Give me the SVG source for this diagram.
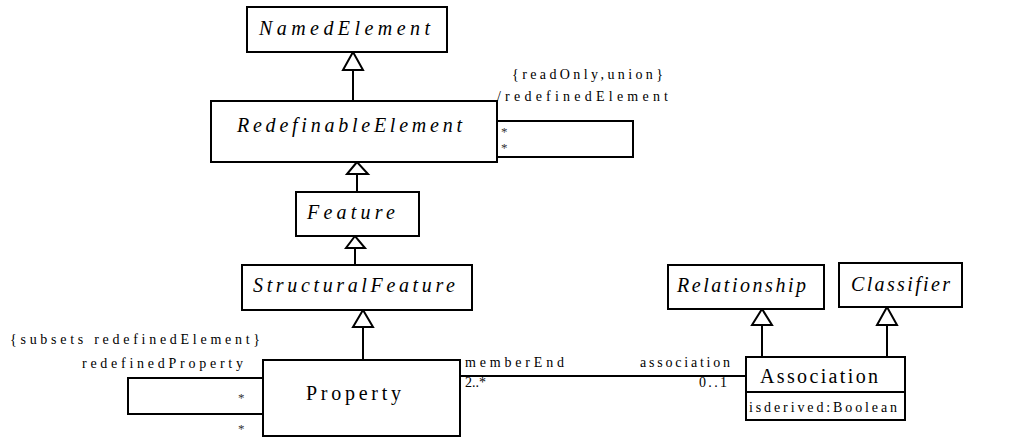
<svg xmlns="http://www.w3.org/2000/svg" width="1014" height="438" viewBox="0 0 1014 438">
<style>
.box{fill:#fff;stroke:#000;stroke-width:2}
.ln{fill:none;stroke:#000;stroke-width:2}
.tri{fill:#fff;stroke:#000;stroke-width:2;stroke-linejoin:miter}
.t{font-family:"Liberation Serif","Times New Roman",serif;font-style:italic;font-size:20px;fill:#000}
.n{font-family:"Liberation Serif","Times New Roman",serif;font-size:20px;fill:#000}
.s{font-family:"Liberation Serif","Times New Roman",serif;font-size:14px;fill:#000}
.a{font-family:"Liberation Serif","Times New Roman",serif;font-size:13px;fill:#333}
</style>
<rect width="1014" height="438" fill="#fff"/>
<g id="connectors">
<line class="ln" x1="353" y1="70" x2="353" y2="101"/>
<polygon class="tri" points="353,52 343,70 363,70"/>
<line class="ln" x1="357" y1="174" x2="357" y2="192"/>
<polygon class="tri" points="357,162 347,174 368,174"/>
<line class="ln" x1="355" y1="248" x2="355" y2="265"/>
<polygon class="tri" points="355,236 346,248 365,248"/>
<line class="ln" x1="363" y1="327" x2="363" y2="360"/>
<polygon class="tri" points="363,310 353,327 373,327"/>
<line class="ln" x1="762" y1="325" x2="762" y2="357"/>
<polygon class="tri" points="762,309 752,325 772,325"/>
<line class="ln" x1="887" y1="325" x2="887" y2="357"/>
<polygon class="tri" points="887,307 877,325 897,325"/>
<polyline class="ln" points="497,121 633,121 633,157 497,157"/>
<polyline class="ln" points="263,378 128,378 128,414 263,414"/>
<line class="ln" x1="460" y1="376" x2="746" y2="376"/>
<text class="s" x="512" y="79" textLength="151" lengthAdjust="spacing">{readOnly,union}</text>
<text class="s" x="497" y="101" textLength="171" lengthAdjust="spacing">/redefinedElement</text>
<text class="a" x="501" y="136">*</text>
<text class="a" x="501" y="152">*</text>
<text class="s" x="10" y="344" textLength="250" lengthAdjust="spacing">{subsets redefinedElement}</text>
<text class="s" x="82" y="368" textLength="161" lengthAdjust="spacing">redefinedProperty</text>
<text class="a" x="238" y="402">*</text>
<text class="a" x="238" y="433">*</text>
<text class="s" x="465" y="367" textLength="99" lengthAdjust="spacing">memberEnd</text>
<text class="s" x="465" y="387">2..*</text>
<text class="s" x="640" y="367" textLength="90" lengthAdjust="spacing">association</text>
<text class="s" x="699" y="387" textLength="28" lengthAdjust="spacing">0..1</text>
</g>
<g id="NamedElement">
<rect class="box" x="247" y="7" width="200" height="45"/>
<text class="t" x="259" y="35" textLength="171" lengthAdjust="spacing">NamedElement</text>
</g>
<g id="RedefinableElement">
<rect class="box" x="211" y="101" width="286" height="61"/>
<text class="t" x="237" y="132" textLength="225" lengthAdjust="spacing">RedefinableElement</text>
</g>
<g id="Feature">
<rect class="box" x="296" y="192" width="123" height="44"/>
<text class="t" x="307" y="219" textLength="88" lengthAdjust="spacing">Feature</text>
</g>
<g id="StructuralFeature">
<rect class="box" x="242" y="265" width="230" height="45"/>
<text class="t" x="253" y="292" textLength="202" lengthAdjust="spacing">StructuralFeature</text>
</g>
<g id="Property">
<rect class="box" x="263" y="360" width="197" height="76"/>
<text class="n" x="306" y="400" textLength="95" lengthAdjust="spacing">Property</text>
</g>
<g id="Relationship">
<rect class="box" x="668" y="265" width="156" height="44"/>
<text class="t" x="677" y="292" textLength="129" lengthAdjust="spacing">Relationship</text>
</g>
<g id="Classifier">
<rect class="box" x="839" y="263" width="123" height="44"/>
<text class="t" x="851" y="291" textLength="99" lengthAdjust="spacing">Classifier</text>
</g>
<g id="Association">
<rect class="box" x="746" y="357" width="159" height="63"/>
<line class="ln" x1="746" y1="392" x2="905" y2="392"/>
<text class="n" x="760" y="383" textLength="118" lengthAdjust="spacing">Association</text>
<text class="s" x="749" y="412" textLength="148" lengthAdjust="spacing">isderived:Boolean</text>
</g>
</svg>
